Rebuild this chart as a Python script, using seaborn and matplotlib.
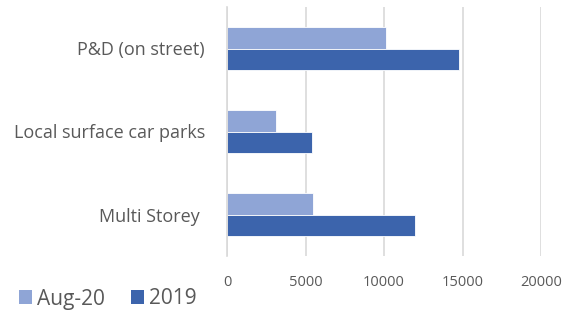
import pandas as pd
import matplotlib
matplotlib.use("Agg")
import matplotlib.pyplot as plt
import seaborn as sns
from matplotlib.patches import Patch

# datos
categories = ["P&D (on street)", "Local surface car parks", "Multi Storey "]
aug20 = [10100, 3100, 5500]
y2019 = [14800, 5400, 12000]
series = ["Aug-20", "2019"]
colors = ["#8FA5D6", "#3C64AC"]
xticks = [0, 5000, 10000, 15000, 20000]

df = pd.DataFrame({
    "category": categories * 2,
    "value": aug20 + y2019,
    "series": [series[0]] * 3 + [series[1]] * 3,
})

sns.set_style("white")
plt.rcParams["font.family"] = ["Open Sans", "DejaVu Sans"]
text_color = "#595959"
grid_color = "#D9D9D9"

fig = plt.figure(figsize=(5.64, 3.13), dpi=100)
ax = fig.add_axes([227 / 564, 1 - 256 / 313, (541 - 227) / 564, (256 - 7) / 313])

sns.barplot(data=df, x="value", y="category", hue="series", hue_order=series,
            order=categories, palette=colors, orient="h", width=0.52,
            saturation=1, ax=ax, legend=False, edgecolor="white", linewidth=0.6)

ax.set_xlim(0, 20000)
ax.set_ylim(2.5, -0.5)
ax.set_xticks(xticks)
ax.set_xticklabels([str(t) for t in xticks], fontsize=10.5, color=text_color)
ax.set_yticks(range(len(categories)))
ax.set_yticklabels(categories, fontsize=13, color=text_color)
ax.set_yticks([-0.5, 0.5, 1.5, 2.5], minor=True)
ax.tick_params(axis="y", which="major", length=0, pad=16)
ax.tick_params(axis="y", which="minor", length=5, color=grid_color, width=1.2)
ax.tick_params(axis="x", length=0, pad=14)
ax.set_xlabel("")
ax.set_ylabel("")

ax.xaxis.grid(True, color=grid_color, linewidth=1.2)
ax.set_axisbelow(True)
for side in ["top", "right", "bottom"]:
    ax.spines[side].set_visible(False)
ax.spines["left"].set_color(grid_color)
ax.spines["left"].set_linewidth(1.2)

handles = [Patch(facecolor=c, edgecolor="none", label=s) for s, c in zip(series, colors)]
fig.legend(handles=handles, loc="center left", bbox_to_anchor=(0.033, 1 - 299 / 313),
           ncol=2, frameon=False, fontsize=15, handlelength=0.62, handleheight=0.62,
           handletextpad=0.25, columnspacing=1.25, labelcolor=text_color, borderaxespad=0,
           borderpad=0)

plt.savefig("out.png", dpi=100)
